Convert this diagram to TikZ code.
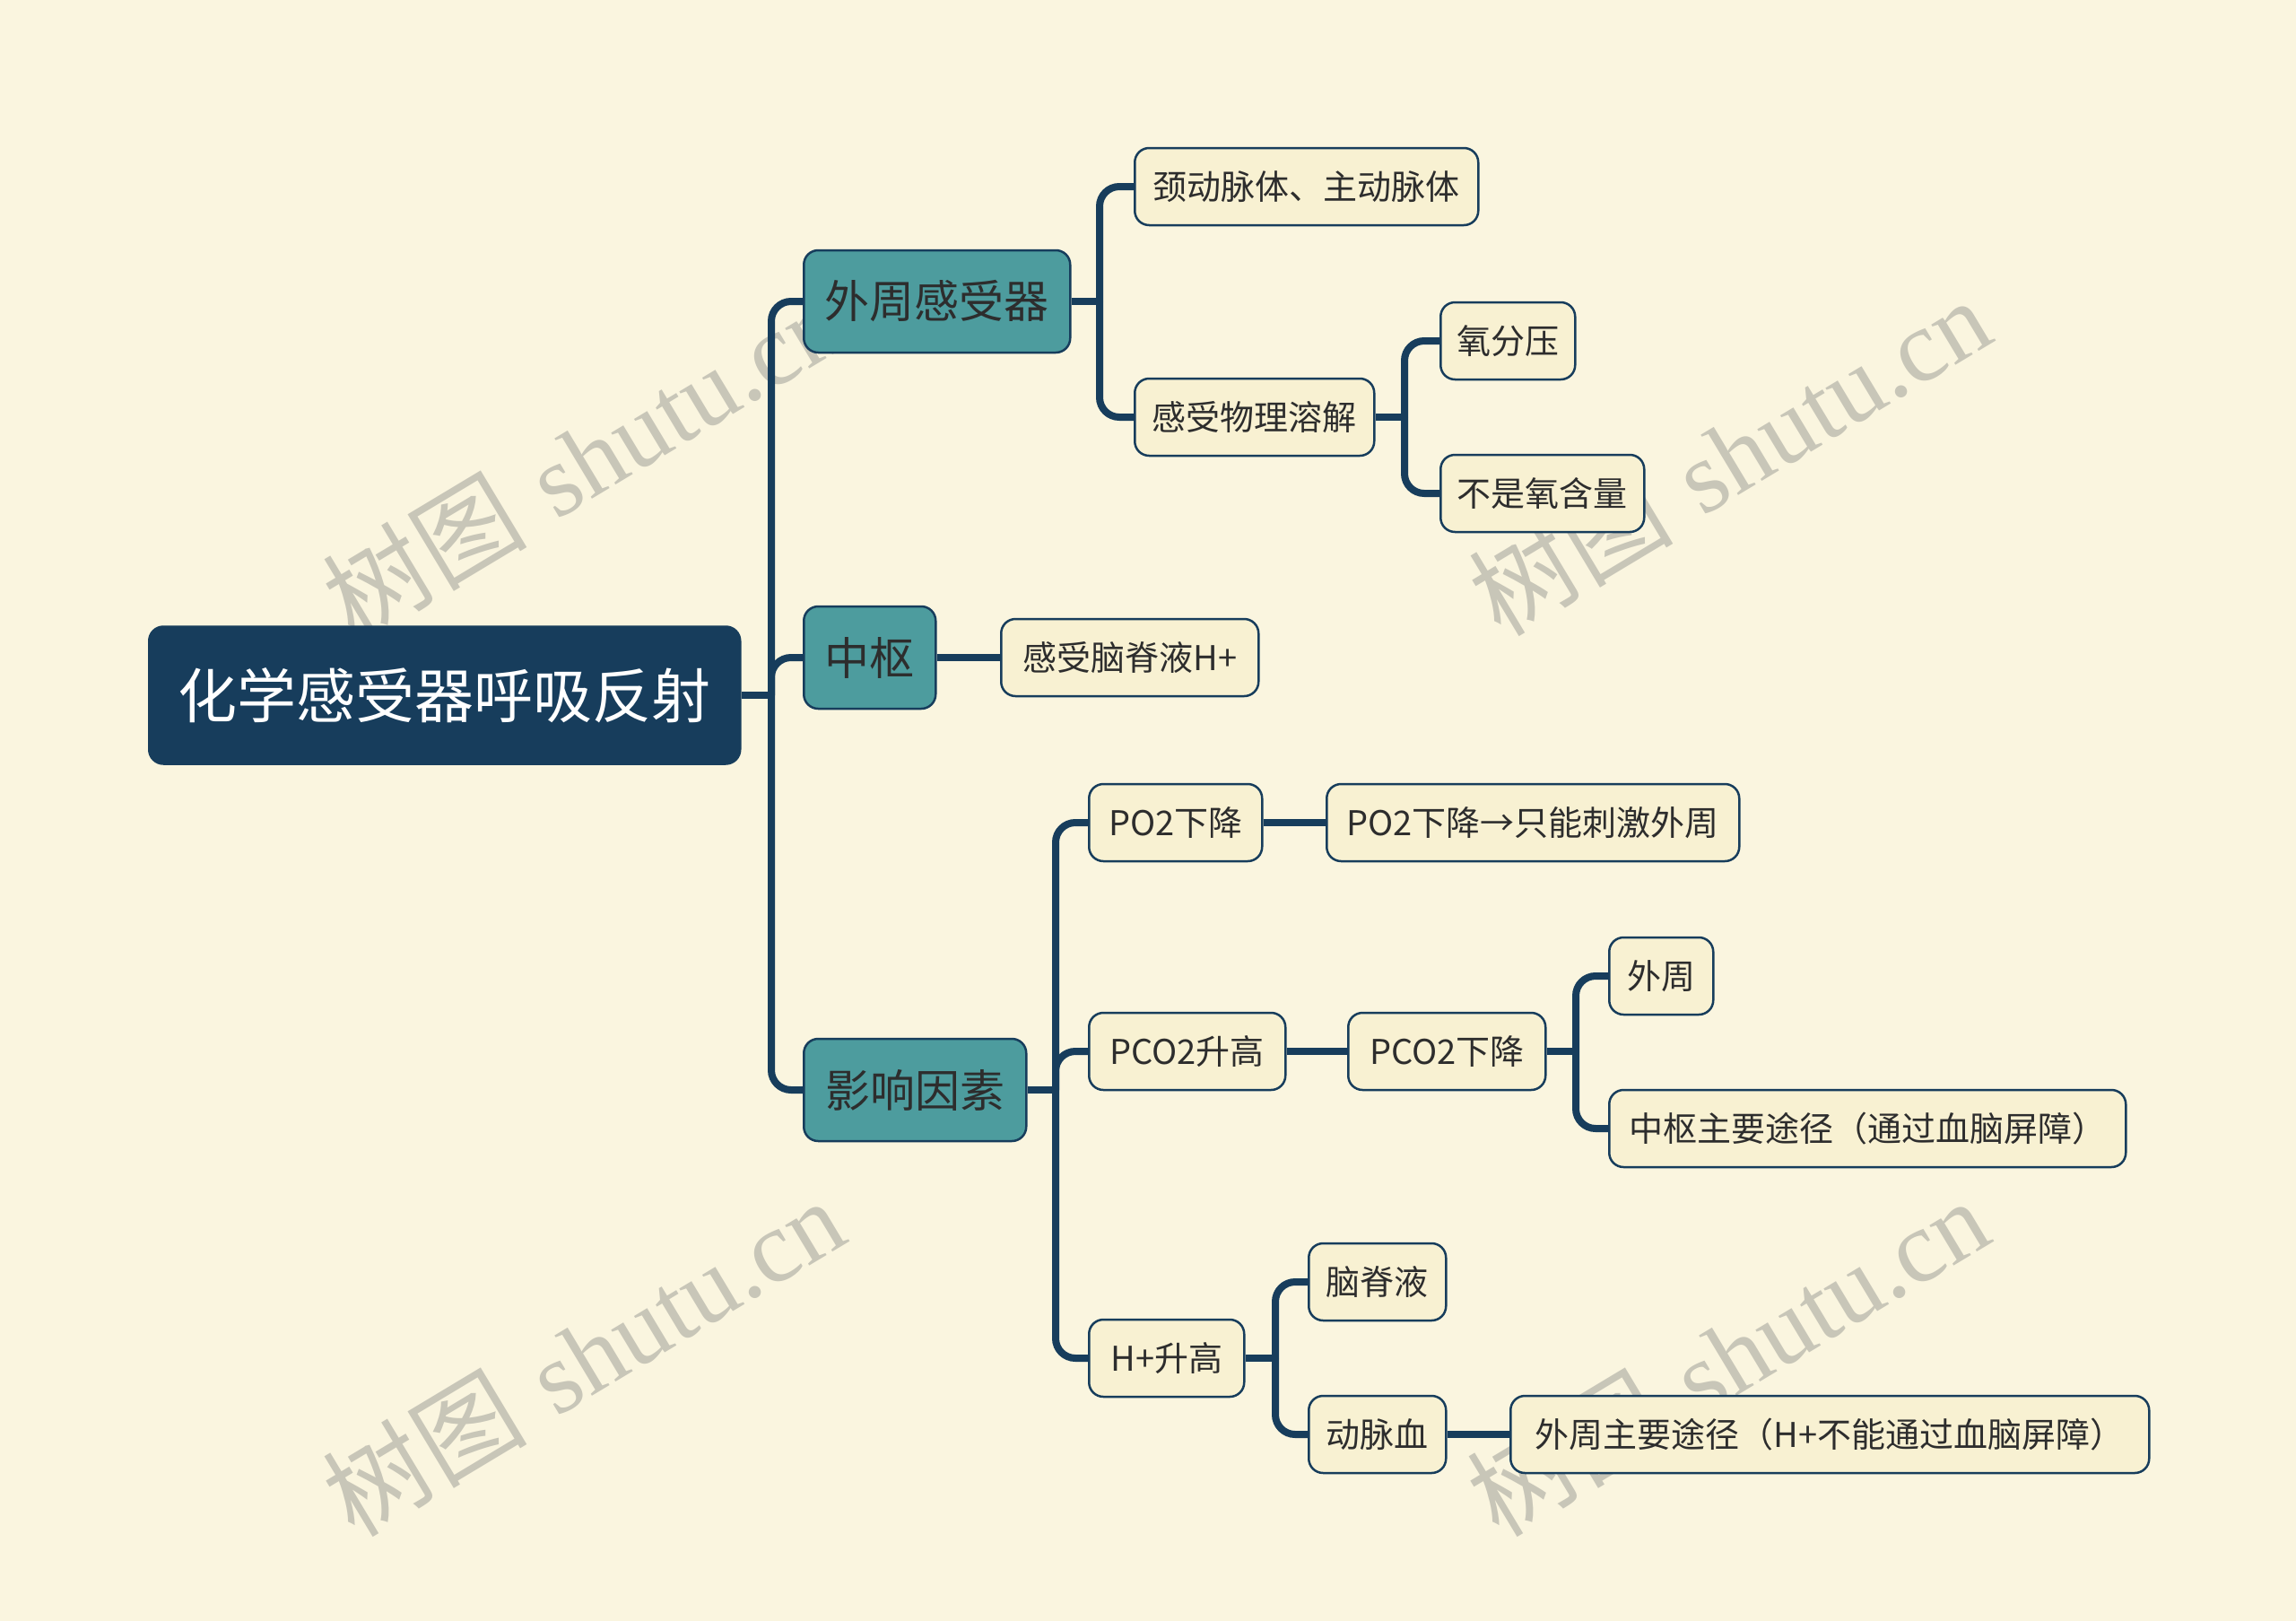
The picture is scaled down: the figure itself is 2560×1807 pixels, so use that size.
\documentclass[tikz,border=0pt]{standalone}
\usepackage{fontspec}
\newfontfamily\cjk{Noto Sans CJK SC}
\newfontfamily\wmserif{Liberation Serif}
\usetikzlibrary{positioning}
\definecolor{bgcream}{RGB}{250,245,223}
\definecolor{leafcream}{RGB}{248,241,210}
\definecolor{navy}{RGB}{23,61,92}
\definecolor{tealbox}{RGB}{77,156,158}
\definecolor{inkgray}{RGB}{45,45,45}
\definecolor{wmgray}{RGB}{200,198,184}

\begin{document}
\begin{tikzpicture}[x=1pt, y=-1pt,
  conn/.style={draw=navy, line width=8pt},
  elbow/.style={conn, rounded corners=22pt},
  box/.style={draw=navy, line width=2.5pt, rounded corners=16pt, anchor=west,
              inner xsep=0pt, inner ysep=0pt, text=inkgray},
  rootbox/.style={box, fill=navy, text=white, minimum height=153pt,
                  font=\cjk\fontsize{66}{72}\selectfont},
  topic/.style={box, fill=tealbox, minimum height=114pt,
                font=\cjk\fontsize{50}{56}\selectfont},
  leaf/.style={box, fill=leafcream, minimum height=86pt,
               font=\cjk\fontsize{38}{44}\selectfont},
  wm/.style={text=wmgray, rotate=31, font=\fontsize{114}{120}\selectfont}
]
  \fill[bgcream] (0,0) rectangle (2560,1807);
  \useasboundingbox (0,0) rectangle (2560,1807);

  % watermarks
  \node[wm] (wm1) at (650,512) {{\cjk 树图} {\wmserif shutu.cn}};
  \node[wm] (wm2) at (1928,508) {{\cjk 树图} {\wmserif shutu.cn}};
  \node[wm] (wm3) at (650,1512) {{\cjk 树图} {\wmserif shutu.cn}};
  \node[wm] (wm4) at (1926,1512) {{\cjk 树图} {\wmserif shutu.cn}};

  % root and main topics
  \node[rootbox, minimum width=659pt] (root) at (165,775) {化学感受器呼吸反射};
  \node[topic, minimum width=297pt] (peri) at (895,336) {外周感受器};
  \node[topic, minimum width=147pt] (cent) at (895,733) {中枢};
  \node[topic, minimum width=248pt] (fact) at (895,1215) {影响因素};

  % 外周感受器
  \node[leaf, minimum width=383pt] (body) at (1264,208) {颈动脉体、主动脉体};
  \node[leaf, minimum width=267pt] (diss) at (1264,465) {感受物理溶解};
  \node[leaf, minimum width=150pt] (opart) at (1605,380) {氧分压};
  \node[leaf, minimum width=227pt] (ocont) at (1605,550) {不是氧含量};

  % 中枢
  \node[leaf, minimum width=287pt] (csf) at (1115,733) {感受脑脊液H+};

  % 影响因素
  \node[leaf, minimum width=193pt] (po2) at (1213,917) {PO2下降};
  \node[leaf, minimum width=460pt] (po2r) at (1478,917) {PO2下降→只能刺激外周};
  \node[leaf, minimum width=219pt] (pco2) at (1213,1172) {PCO2升高};
  \node[leaf, minimum width=220pt] (pco2d) at (1502,1172) {PCO2下降};
  \node[leaf, minimum width=116pt] (pperi) at (1793,1088) {外周};
  \node[leaf, minimum width=576pt] (pcent) at (1793,1258) {中枢主要途径（通过血脑屏障）};
  \node[leaf, minimum width=173pt] (hion) at (1213,1514) {H+升高};
  \node[leaf, minimum width=153pt] (hcsf) at (1458,1429) {脑脊液};
  \node[leaf, minimum width=153pt] (hart) at (1458,1599) {动脉血};
  \node[leaf, minimum width=712pt] (hperi) at (1683,1599) {外周主要途径（H+不能通过血脑屏障）};

  % spines
  \coordinate (s0) at (860,775);
  \coordinate (s1) at (1226,336);
  \coordinate (s2) at (1566,465);
  \coordinate (s3) at (1177,1215);
  \coordinate (s4) at (1757,1172);
  \coordinate (s5) at (1422,1514);

  \draw[conn] (root.east) -- (s0);
  \foreach \c in {peri, cent, fact}
    \draw[elbow] (s0) |- (\c.west);

  \draw[conn] (peri.east) -- (s1);
  \foreach \c in {body, diss}
    \draw[elbow] (s1) |- (\c.west);

  \draw[conn] (diss.east) -- (s2);
  \foreach \c in {opart, ocont}
    \draw[elbow] (s2) |- (\c.west);

  \draw[conn] (cent) -- (csf);

  \draw[conn] (fact.east) -- (s3);
  \foreach \c in {po2, pco2, hion}
    \draw[elbow] (s3) |- (\c.west);

  \draw[conn] (po2) -- (po2r);
  \draw[conn] (pco2) -- (pco2d);

  \draw[conn] (pco2d.east) -- (s4);
  \foreach \c in {pperi, pcent}
    \draw[elbow] (s4) |- (\c.west);

  \draw[conn] (hion.east) -- (s5);
  \foreach \c in {hcsf, hart}
    \draw[elbow] (s5) |- (\c.west);

  \draw[conn] (hart) -- (hperi);
\end{tikzpicture}
\end{document}
